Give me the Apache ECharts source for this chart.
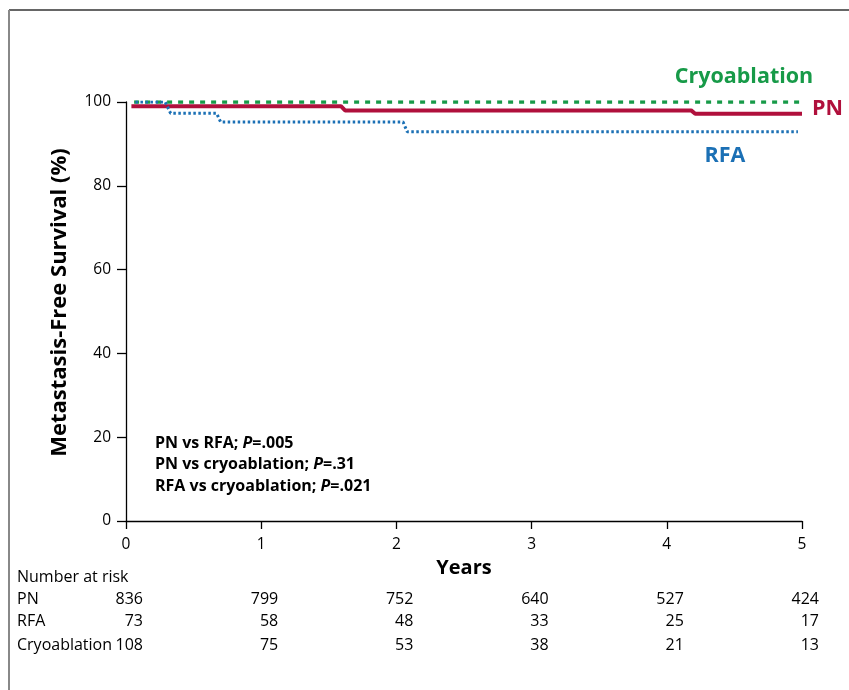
<!DOCTYPE html>
<html>
<head>
<meta charset="utf-8">
<script src="https://cdn.jsdelivr.net/npm/echarts@6/dist/echarts.min.js"></script>
<style>
html,body{margin:0;padding:0;background:#fff;}
#chart{width:849px;height:690px;}
</style>
</head>
<body>
<div id="chart"></div>
<script>
// ---- data ----
const xTicks = [0, 1, 2, 3, 4, 5];
const yTicks = [0, 20, 40, 60, 80, 100];

const cryoTimes = [0.06, 4.98];
const cryoSurv  = [100, 100];

const pnTimes = [0.04, 1.59, 1.62, 4.18, 4.21, 5.0];
const pnSurv  = [99.0, 99.0, 98.0, 98.0, 97.2, 97.2];

const rfaTimes = [0.07, 0.29, 0.33, 0.67, 0.70, 2.05, 2.08, 4.97];
const rfaSurv  = [100, 100, 97.3, 97.3, 95.2, 95.2, 92.9, 92.9];

const riskGroups = ['PN', 'RFA', 'Cryoablation'];
const riskPN   = [836, 799, 752, 640, 527, 424];
const riskRFA  = [73, 58, 48, 33, 25, 17];
const riskCryo = [108, 75, 53, 38, 21, 13];

const pTests = [
  ['PN vs RFA; ', '=.005'],
  ['PN vs cryoablation; ', '=.31'],
  ['RFA vs cryoablation; ', '=.021']
];

const FONT = '"Open Sans"';
const GREEN = '#179a48';
const RED = '#b0103c';
const BLUE = '#1b70b5';

function zip(a, b) { return a.map((v, i) => [v, b[i]]); }

const chart = echarts.init(document.getElementById('chart'));

const option = {
  animation: false,
  backgroundColor: '#fff',
  grid: { left: 126, right: 47, top: 102, bottom: 169 },
  xAxis: {
    type: 'value', min: 0, max: 5, interval: 1,
    name: 'Years', nameLocation: 'middle', nameGap: 37,
    nameTextStyle: { fontFamily: FONT, fontWeight: 'bold', fontSize: 20, color: '#000' },
    axisLine: { lineStyle: { color: '#000', width: 1.3 } },
    axisTick: { show: true, inside: false, length: 8, lineStyle: { color: '#000', width: 1.3 } },
    axisLabel: { fontFamily: FONT, fontSize: 15.5, color: '#000', margin: 16 },
    splitLine: { show: false }
  },
  yAxis: {
    type: 'value', min: 0, max: 100, interval: 20,
    name: 'Metastasis-Free Survival (%)', nameLocation: 'middle', nameGap: 55,
    nameTextStyle: { fontFamily: FONT, fontWeight: 'bold', fontSize: 22, color: '#000', padding: [0, 0, 0, 18] },
    axisLine: { show: true, lineStyle: { color: '#000', width: 1.3 } },
    axisTick: { show: true, inside: false, length: 9, lineStyle: { color: '#000', width: 1.3 } },
    axisLabel: { fontFamily: FONT, fontSize: 15.5, color: '#000', margin: 15 },
    splitLine: { show: false }
  },
  series: [
    {
      name: 'Cryoablation', type: 'line', data: zip(cryoTimes, cryoSurv),
      symbol: 'none', z: 3,
      lineStyle: { color: GREEN, width: 3.5, type: [5, 6] }
    },
    {
      name: 'PN', type: 'line', data: zip(pnTimes, pnSurv),
      symbol: 'none', z: 4,
      lineStyle: { color: RED, width: 4, type: 'solid' }
    },
    {
      name: 'RFA', type: 'line', data: zip(rfaTimes, rfaSurv),
      symbol: 'none', z: 5,
      lineStyle: { color: BLUE, width: 3, type: [2.5, 2.5] }
    }
  ]
};
chart.setOption(option);

// graphic overlays
const gfx = [];
// frame
gfx.push({ type: 'line', shape: { x1: 9, y1: 10, x2: 849, y2: 10 }, style: { stroke: '#333', lineWidth: 1.5 } });
gfx.push({ type: 'line', shape: { x1: 9, y1: 10, x2: 9, y2: 690 }, style: { stroke: '#888', lineWidth: 2 } });

// group labels
gfx.push({ type: 'text', x: 744, y: 77, style: { text: 'Cryoablation', fill: GREEN, font: 'bold 21.5px ' + FONT, textAlign: 'center', textVerticalAlign: 'middle' } });
gfx.push({ type: 'text', x: 812, y: 109, style: { text: 'PN', fill: RED, font: 'bold 21.5px ' + FONT, textAlign: 'left', textVerticalAlign: 'middle' } });
gfx.push({ type: 'text', x: 725, y: 156, style: { text: 'RFA', fill: BLUE, font: 'bold 21.5px ' + FONT, textAlign: 'center', textVerticalAlign: 'middle' } });

// p-values
pTests.forEach((p, i) => {
  gfx.push({
    type: 'text', x: 155, y: 443 + i * 21.5,
    style: {
      text: '{a|' + p[0] + '}{b|P}{a|' + p[1] + '}',
      textVerticalAlign: 'middle',
      rich: {
        a: { fontFamily: FONT, fontWeight: 'bold', fontSize: 16, fill: '#000', color: '#000' },
        b: { fontFamily: FONT, fontWeight: 'bold', fontStyle: 'italic', fontSize: 16, fill: '#000', color: '#000' }
      }
    }
  });
});

// number at risk table
gfx.push({ type: 'text', x: 17, y: 577, style: { text: 'Number at risk', fill: '#000', font: '16px ' + FONT, textVerticalAlign: 'middle' } });
const riskRows = [riskPN, riskRFA, riskCryo];
const rowY = [599, 621, 645];
riskGroups.forEach((g, r) => {
  gfx.push({ type: 'text', x: 17, y: rowY[r], style: { text: g, fill: '#000', font: '16px ' + FONT, textVerticalAlign: 'middle' } });
  riskRows[r].forEach((v, i) => {
    const px = chart.convertToPixel({ xAxisIndex: 0 }, xTicks[i]);
    gfx.push({ type: 'text', x: px + 17, y: rowY[r], style: { text: String(v), fill: '#000', font: '16px ' + FONT, textAlign: 'right', textVerticalAlign: 'middle' } });
  });
});

chart.setOption({ graphic: gfx });
</script>
</body>
</html>
